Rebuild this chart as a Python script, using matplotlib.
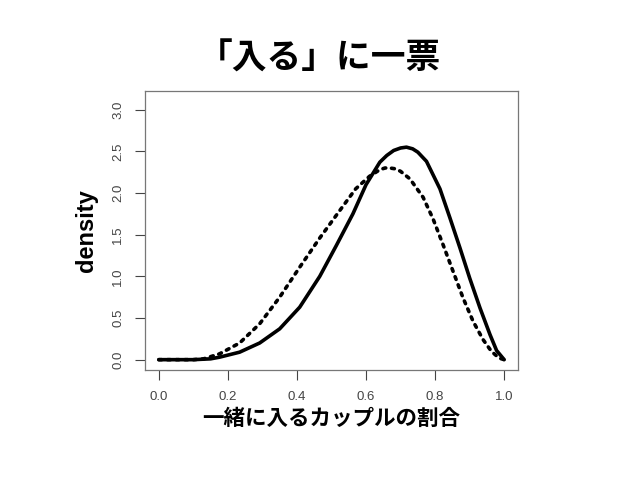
import matplotlib
matplotlib.use('Agg')
import matplotlib.pyplot as plt

plt.rcParams['font.family'] = ['Liberation Sans', 'DejaVu Sans']

# solid curve ("入る")
solid_x = [0.0, 0.10, 0.15, 0.176, 0.234, 0.292, 0.35, 0.408, 0.466, 0.514, 0.562,
           0.60, 0.64, 0.66, 0.68, 0.70, 0.717, 0.735, 0.75, 0.775, 0.814, 0.843,
           0.872, 0.90, 0.93, 0.959, 0.978, 1.0]
solid_y = [0.0, 0.0, 0.01, 0.03, 0.09, 0.20, 0.37, 0.63, 1.00, 1.37, 1.75,
           2.10, 2.37, 2.45, 2.51, 2.54, 2.55, 2.53, 2.49, 2.38, 2.05, 1.70,
           1.34, 0.98, 0.62, 0.30, 0.11, 0.0]

# dotted curve
dot_x = [0.0, 0.10, 0.13, 0.176, 0.234, 0.292, 0.35, 0.408, 0.466, 0.524, 0.57,
         0.61, 0.64, 0.655, 0.669, 0.685, 0.70, 0.727, 0.765, 0.794, 0.823,
         0.852, 0.881, 0.91, 0.939, 0.963, 0.985, 1.0]
dot_y = [0.0, 0.0, 0.01, 0.07, 0.20, 0.43, 0.75, 1.11, 1.46, 1.79, 2.05,
         2.20, 2.28, 2.30, 2.30, 2.29, 2.26, 2.17, 1.95, 1.69, 1.38,
         1.06, 0.74, 0.46, 0.24, 0.10, 0.02, 0.0]

x_ticks = [0.0, 0.2, 0.4, 0.6, 0.8, 1.0]
y_ticks = [0.0, 0.5, 1.0, 1.5, 2.0, 2.5, 3.0]

fig = plt.figure(figsize=(6.38, 4.79), dpi=100)
ax = fig.add_axes([145 / 638, 1 - 370 / 479, 373 / 638, 279 / 479])

ax.plot(solid_x, solid_y, color='black', lw=2.6, solid_capstyle='round',
        solid_joinstyle='round')
ax.plot(dot_x, dot_y, color='black', lw=2.6, linestyle=(0, (0.8, 1.6)),
        dash_capstyle='round')

ax.set_xlim(-0.04, 1.04)
ax.set_ylim(-0.124, 3.224)
ax.set_xticks(x_ticks)
ax.set_yticks(y_ticks)
ax.set_xticklabels([f'{v:.1f}' for v in x_ticks])
ax.set_yticklabels([f'{v:.1f}' for v in y_ticks], rotation=90, va='center')
ax.tick_params(labelsize=9.5, length=7, width=0.8, pad=8)
ax.tick_params(axis='x', colors='#444444')
ax.tick_params(axis='y', colors='#444444')
for s in ax.spines.values():
    s.set_color('#777777')
    s.set_linewidth(0.9)

ax.set_ylabel('density', fontsize=17, fontweight='bold', labelpad=10)
ax.set_xlabel('一緒に入るカップルの割合', fontsize=15.5, fontweight='bold',
              family=['Noto Sans CJK JP', 'DejaVu Sans'], labelpad=4)

fig.text(0.5, 1 - 58 / 479, '「入る」に一票', fontsize=25, fontweight='bold',
         family=['Noto Sans CJK JP', 'DejaVu Sans'], ha='center', va='center')

fig.savefig('out.png', dpi=100)
